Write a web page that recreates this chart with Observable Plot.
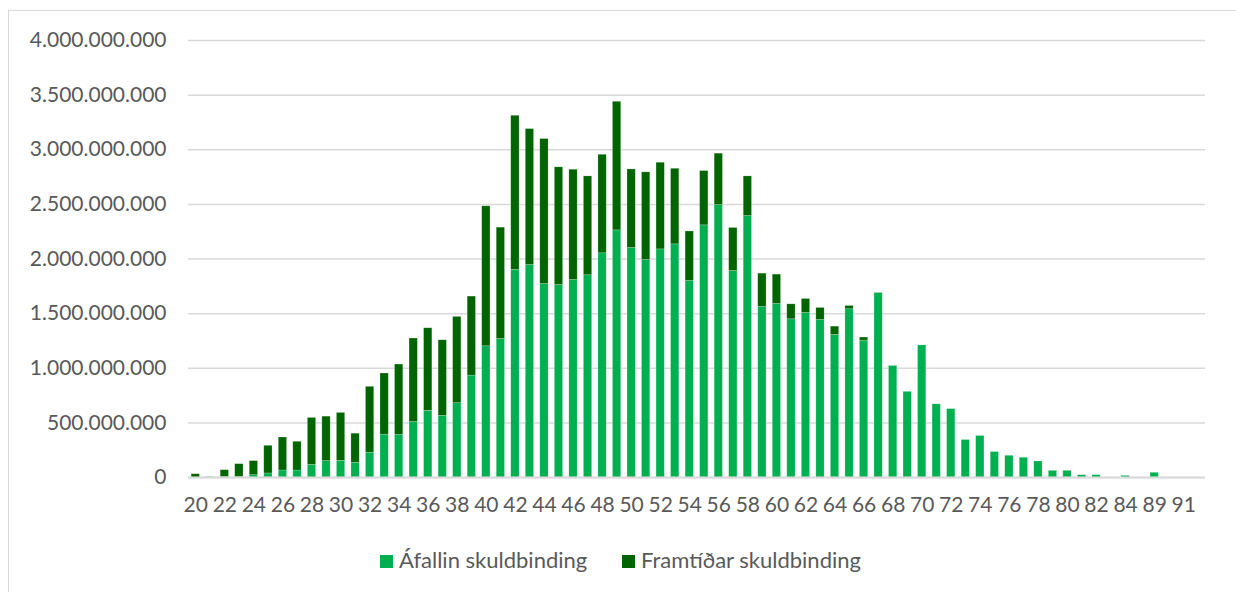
<!DOCTYPE html>
<html>
<head>
<meta charset="utf-8">
<script src="https://cdn.jsdelivr.net/npm/d3@7"></script>
<script src="https://cdn.jsdelivr.net/npm/@observablehq/plot@0.6"></script>
<style>
  html, body { margin: 0; padding: 0; background: white; }
  body { width: 1236px; height: 592px; position: relative; overflow: hidden; font-family: Lato, sans-serif; }
  #frame { position: absolute; left: 8px; top: 10px; width: 1240px; height: 600px; border-left: 1.5px solid #d9d9d9; border-top: 1.5px solid #d9d9d9; box-sizing: border-box; }
  #chart { position: absolute; left: 0; top: 0; }
  #legend { position: absolute; top: 546px; left: 0; width: 1236px; font-family: Lato, sans-serif; font-size: 22px; color: #595959; }
  .item { position: absolute; display: flex; align-items: center; white-space: nowrap; }
  .sw { width: 13px; height: 13px; margin-right: 6px; margin-top: 4px; }
</style>
</head>
<body>
<div id="frame"></div>
<div id="chart"></div>
<div id="legend"></div>
<script>
const ages = ["20","21","22","23","24","25","26","27","28","29","30","31","32","33","34","35","36","37","38","39",
  "40","41","42","43","44","45","46","47","48","49","50","51","52","53","54","55","56","57","58","59",
  "60","61","62","63","64","65","66","67","68","69","70","71","72","73","74","75","76","77","78","79",
  "80","81","82","83","84","86","89","90","91","93"];

// millions ISK
const afallin = [0,5,3,5,21,37,64,64,116,150,153,135,227,392,390,508,610,564,680,933,
  1201,1268,1900,1945,1771,1762,1808,1851,2052,2262,2101,1991,2088,2134,1799,2308,2494,1890,2393,1561,
  1589,1448,1506,1442,1305,1540,1253,1689,1021,784,1209,670,626,343,380,233,199,181,147,61,
  61,21,21,0,15,0,43,0,0,0];

const framtidar = [30,0,64,117,129,253,302,263,429,407,438,266,603,560,644,764,756,692,790,723,
  1281,1019,1411,1244,1327,1077,1009,905,902,1177,719,802,793,692,453,497,470,394,363,305,
  268,137,128,110,76,30,28,0,0,0,0,0,0,0,0,0,0,0,0,0,
  0,0,0,0,0,0,0,0,0,0];

const seriesNames = ["Áfallin skuldbinding", "Framtíðar skuldbinding"];
const seriesColors = ["#00b050", "#006400"];
const yTicks = [0, 500e6, 1000e6, 1500e6, 2000e6, 2500e6, 3000e6, 3500e6, 4000e6];
const xTickLabels = ages.filter((d, i) => i % 2 === 0);

const rows = [];
ages.forEach((a, i) => {
  rows.push({age: a, series: seriesNames[0], value: afallin[i] * 1e6});
  rows.push({age: a, series: seriesNames[1], value: framtidar[i] * 1e6});
});

const loc = d3.formatLocale({decimal: ",", thousands: ".", grouping: [3], currency: ["", ""]});
const fmt = loc.format(",.0f");

const plot = Plot.plot({
  width: 1236,
  height: 530,
  marginTop: 40,
  marginBottom: 53,
  marginLeft: 188,
  marginRight: 31,
  style: {fontFamily: "Lato, sans-serif", fontSize: "21px", color: "#595959", background: "transparent", overflow: "visible"},
  x: {domain: ages, paddingInner: 0.43, paddingOuter: 0.215, label: null, tickSize: 0, tickPadding: 20, ticks: xTickLabels},
  y: {domain: [0, 4000e6], label: null, tickSize: 0, tickPadding: 22, ticks: yTicks, tickFormat: fmt},
  color: {domain: seriesNames, range: seriesColors},
  marks: [
    Plot.ruleY(yTicks, {stroke: "#d9d9d9", strokeWidth: 1.5}),
    Plot.barY(rows, Plot.stackY({order: null}, {x: "age", y: "value", z: "series", fill: "series", stroke: "white", strokeOpacity: 0.35, strokeWidth: 0.6})),
    Plot.ruleY([0], {stroke: "#d9d9d9", strokeWidth: 2})
  ]
});
document.getElementById("chart").appendChild(plot);

const legend = document.getElementById("legend");
const lefts = [380, 622];
seriesNames.forEach((n, i) => {
  const it = document.createElement("div");
  it.className = "item";
  it.style.left = lefts[i] + "px";
  const sw = document.createElement("div");
  sw.className = "sw";
  sw.style.background = seriesColors[i];
  const t = document.createElement("span");
  t.textContent = n;
  it.appendChild(sw);
  it.appendChild(t);
  legend.appendChild(it);
});
</script>
</body>
</html>
